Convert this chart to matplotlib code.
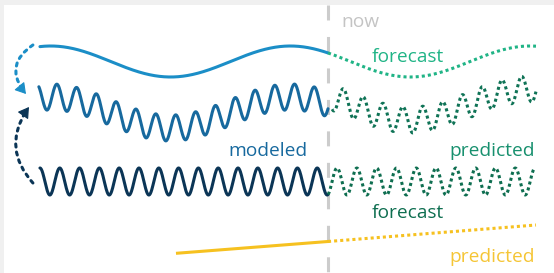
import numpy as np
import matplotlib.pyplot as plt

# time axis in cycles of the fast signal, "now" at 0
t_hist = [-14.6, 0.0]       # history span
t_fcst = [0.0, 10.5]        # forecast span
t_trend = [-7.6, 0.0, 10.5]  # yellow trend line
v_trend = [1.98, 3.15, 4.8]

# slow component (top curve): center, amplitude, period, time of a peak
slow = [21.15, 1.55, 12.1, -14.0]
# fast components: amplitude, phase of a peak (fraction of a cycle)
modeled = [1.3, 0.31]
predicted = [1.3, 0.78]
modeled_offset = -5.1
predicted_offset = -4.3
# bottom signal: center, amplitude, phase of a peak
seasonal = [9.15, 1.35, 0.455]

labels = ["now", "forecast", "modeled", "predicted", "forecast", "predicted"]

c_slow = "#1b8ec7"
c_fcst = "#20b486"
c_mod = "#17699e"
c_pred = "#0f7356"
c_pred_txt = "#17906e"
c_navy = "#0b3556"
c_navy_fc = "#0e6e50"
c_yellow = "#f6c120"
c_grey = "#cccccc"

plt.rcParams['font.family'] = ['Open Sans', 'DejaVu Sans']


def slow_curve(t):
    return slow[0] + slow[1] * np.cos(2 * np.pi * (t - slow[3]) / slow[2])


def fast_curve(t, p):
    return p[0] * np.cos(2 * np.pi * (t - p[1]))


fig = plt.figure(figsize=(5.54, 2.73), dpi=100, facecolor="#f0f0f0")
ax = fig.add_axes([4 / 554, 0, 550 / 554, 268 / 273])
ax.set_facecolor("white")
ax.set_xlim(-16.36, 11.41)
ax.set_ylim(0, 26.8)
ax.set_xticks([])
ax.set_yticks([])
for s in ax.spines.values():
    s.set_visible(False)

dotted = (0, (1, 1.0))
lw = 2.2

th = np.linspace(t_hist[0], t_hist[1], 800)
tf = np.linspace(t_fcst[0], t_fcst[1], 800)

# top slow curve
ax.plot(th[th > -14.55], slow_curve(th[th > -14.55]), color=c_slow, lw=lw, solid_capstyle="round")
ax.plot(tf, slow_curve(tf), color=c_fcst, lw=lw, linestyle=dotted)

# modeled / predicted
ax.plot(th, slow_curve(th) + modeled_offset + fast_curve(th, modeled), color=c_mod, lw=lw,
        solid_capstyle="round")
tp = tf[tf > 0.2]
ax.plot(tp, slow_curve(tp) + predicted_offset + fast_curve(tp, predicted), color=c_pred, lw=lw,
        linestyle=dotted)

# bottom signal
tb = th[th > -14.55]
ax.plot(tb, seasonal[0] + seasonal[1] * np.cos(2 * np.pi * (tb - seasonal[2])), color=c_navy,
        lw=lw, solid_capstyle="round")
tbf = tf[tf < 10.45]
ax.plot(tbf, seasonal[0] + seasonal[1] * np.cos(2 * np.pi * (tbf - seasonal[2])), color=c_navy_fc,
        lw=lw, linestyle=dotted)

# trend
ax.plot(t_trend[:2], v_trend[:2], color=c_yellow, lw=lw)
ax.plot(t_trend[1:], v_trend[1:], color=c_yellow, lw=lw, linestyle=dotted)

# now line
ax.axvline(0, ymin=1, ymax=0, color=c_grey, lw=lw, dashes=(4.9, 5.4), zorder=0)


def curved_arrow(start, tip, tail, rad, color):
    # dotted arc, then a solid head laid on top of its end
    ax.annotate("", xy=tip, xytext=start,
                arrowprops=dict(arrowstyle="-", color=color, lw=lw, linestyle=":",
                                connectionstyle=f"arc3,rad={rad}", shrinkA=0, shrinkB=4))
    ax.annotate("", xy=tip, xytext=tail,
                arrowprops=dict(arrowstyle="-|>,head_length=0.36,head_width=0.22", color=color,
                                lw=0.8, shrinkA=0, shrinkB=0, mutation_scale=18))


curved_arrow((-14.9, 22.8), (-15.25, 17.9), (-15.51, 18.52), 0.55, c_slow)
curved_arrow((-14.9, 9.0), (-15.10, 16.6), (-15.36, 15.87), -0.4, c_navy)

fs = 13.8
ax.text(0.66, 24.6, labels[0], color="#c4c4c4", fontsize=fs, ha="left", va="baseline")
ax.text(2.22, 21.1, labels[1], color=c_fcst, fontsize=fs, ha="left", va="baseline")
ax.text(-1.06, 11.7, labels[2], color=c_mod, fontsize=fs, ha="right", va="baseline")
ax.text(10.45, 11.65, labels[3], color=c_pred_txt, fontsize=fs, ha="right", va="baseline")
ax.text(2.22, 5.5, labels[4], color=c_navy_fc, fontsize=fs, ha="left", va="baseline")
ax.text(10.45, 1.1, labels[5], color="#f5c535", fontsize=fs, ha="right", va="baseline")

fig.savefig("out.png", dpi=100, facecolor=fig.get_facecolor())
